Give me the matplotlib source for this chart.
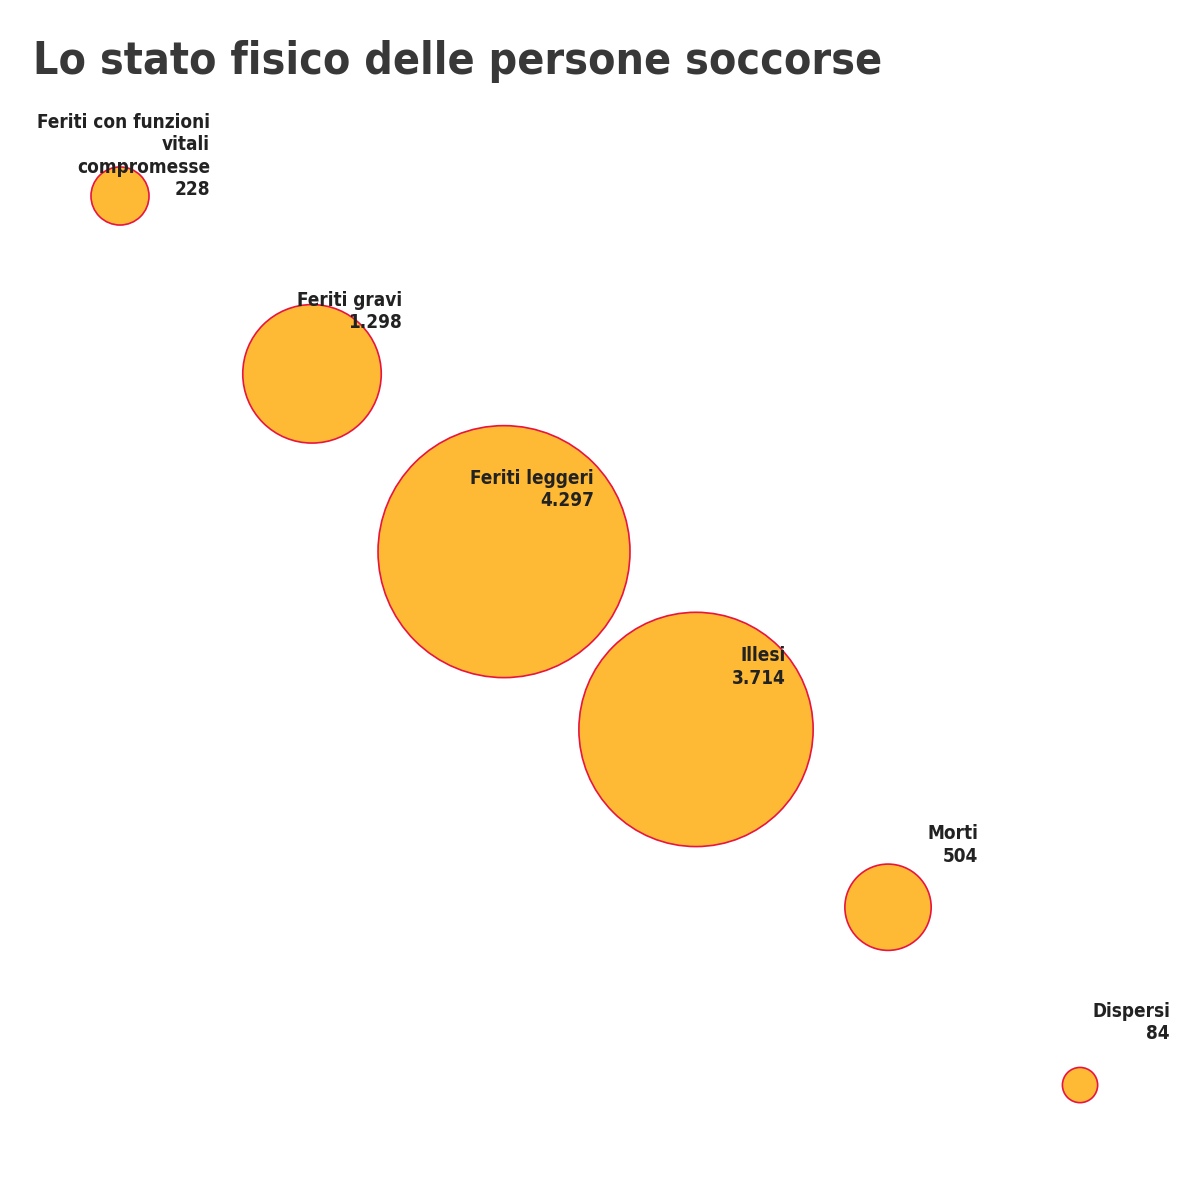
import numpy as np
import matplotlib
matplotlib.use("Agg")
import matplotlib.pyplot as plt

# data
categories = ["Feriti con funzioni\nvitali\ncompromesse", "Feriti gravi", "Feriti leggeri",
              "Illesi", "Morti", "Dispersi"]
values = [228, 1298, 4297, 3714, 504, 84]
value_labels = ["228", "1.298", "4.297", "3.714", "504", "84"]

title = "Lo stato fisico delle persone soccorse"

fig = plt.figure(figsize=(11.96, 11.96), dpi=100)
ax = fig.add_axes([0, 0, 1, 1])
ax.set_xlim(-0.625, 5.604)
ax.set_ylim(5.624, -1.1024)
ax.axis("off")

idx = np.arange(len(values))
vals = np.array(values, dtype=float)
# area proportional to value
ax.scatter(idx, idx, s=7.66 * vals, c="#FFBA35", edgecolors="#E8153F",
           linewidths=1.2, zorder=2)

for i in idx:
    # labels to the upper-right of each bubble, right aligned
    ax.annotate(categories[i] + "\n" + value_labels[i], xy=(i, i),
                xytext=(90 * 0.72, 83 * 0.72), textcoords="offset points",
                ha="right", va="top", fontsize=13.6, fontweight="bold",
                family="DejaVu Sans", fontstretch="condensed",
                color="#222222", linespacing=1.22, multialignment="right",
                zorder=3)

fig.text(33 / 1196, 1 - 74 / 1196, title, ha="left", va="baseline",
         fontsize=32, fontweight="bold", family="DejaVu Sans",
         fontstretch="condensed", color="#383838")

fig.savefig("out.png", dpi=100, facecolor="white")
